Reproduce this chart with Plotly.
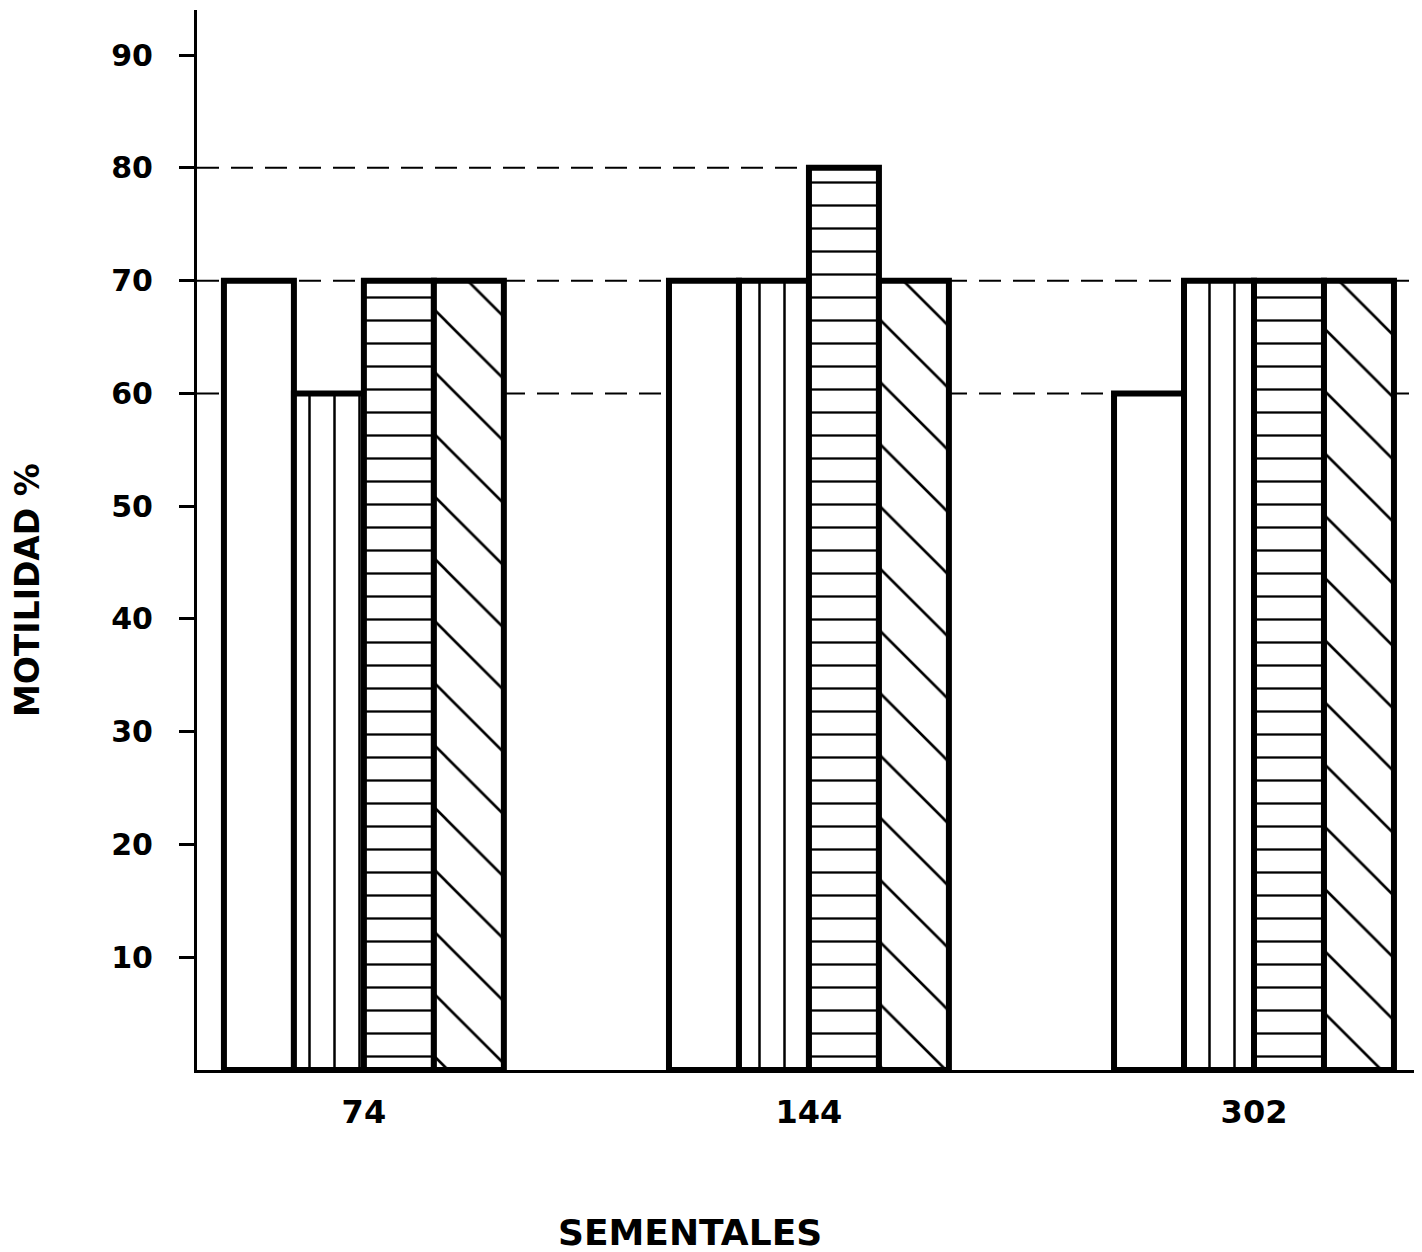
import plotly.graph_objects as go

# ---- data ----
sementales = ["74", "144", "302"]
serie_1 = [70, 70, 60]   # blank bars
serie_2 = [60, 70, 70]   # vertical lines
serie_3 = [70, 80, 70]   # horizontal lines
serie_4 = [70, 70, 70]   # diagonal lines
y_ticks = [10, 20, 30, 40, 50, 60, 70, 80, 90]
ref_lines = [80, 70, 60]

series = [
    ("Serie 1", serie_1, ""),
    ("Serie 2", serie_2, "|"),
    ("Serie 3", serie_3, "-"),
    ("Serie 4", serie_4, "\\"),
]
pattern_size = {"": 10, "|": 25, "-": 23, "\\": 44}
pattern_sol = {"": 0.1, "|": 0.1, "-": 0.1, "\\": 0.06}

fig = go.Figure()
for name, vals, shape in series:
    fig.add_trace(go.Bar(
        x=sementales, y=vals, name=name,
        marker=dict(
            color="white",
            line=dict(color="black", width=6),
            pattern=dict(shape=shape, fgcolor="black", bgcolor="white",
                         size=pattern_size[shape], solidity=pattern_sol[shape],
                         fillmode="replace", fgopacity=1),
        ),
        showlegend=False,
    ))

x_left, x_right = -0.375, 2.373
# dashed reference lines (drawn beneath the bars)
for v in ref_lines:
    x_end = sementales.index("144") if v == 80 else x_right
    fig.add_shape(type="line", xref="x", yref="y", x0=x_left, x1=x_end, y0=v, y1=v,
                  line=dict(color="black", width=2, dash="22px,12px"), layer="below")

fig.update_layout(
    width=1414, height=1244,
    margin=dict(l=189, r=2, t=2, b=182),
    paper_bgcolor="white", plot_bgcolor="white",
    barmode="group", bargap=0.371, bargroupgap=0,
    font=dict(family="DejaVu Sans", color="black"),
)
fig.update_xaxes(
    type="category", range=[x_left, x_right],
    showline=True, linecolor="black", linewidth=3,
    showgrid=False, ticks="", ticklabelstandoff=12,
    tickfont=dict(size=32, family="DejaVu Sans", weight="bold"),
    zeroline=False, automargin=False,
)
fig.update_yaxes(
    range=[0, 94], tickvals=y_ticks,
    showline=True, linecolor="black", linewidth=3,
    showgrid=False, zeroline=False,
    ticks="outside", ticklen=15, tickwidth=3, tickcolor="black",
    ticklabelstandoff=20, automargin=False,
    tickfont=dict(size=30, family="DejaVu Sans", weight="bold"),
)
fig.add_annotation(text="MOTILIDAD %", xref="paper", yref="paper",
                   x=-0.138, y=0.453, textangle=-90, showarrow=False,
                   xanchor="center", yanchor="middle",
                   font=dict(size=33, family="DejaVu Sans", weight="bold"))
fig.add_annotation(text="SEMENTALES", xref="paper", yref="paper",
                   x=0.403, y=-0.153, showarrow=False,
                   xanchor="center", yanchor="middle",
                   font=dict(size=36, family="DejaVu Sans", weight="bold"))

fig.write_html("out.html")
